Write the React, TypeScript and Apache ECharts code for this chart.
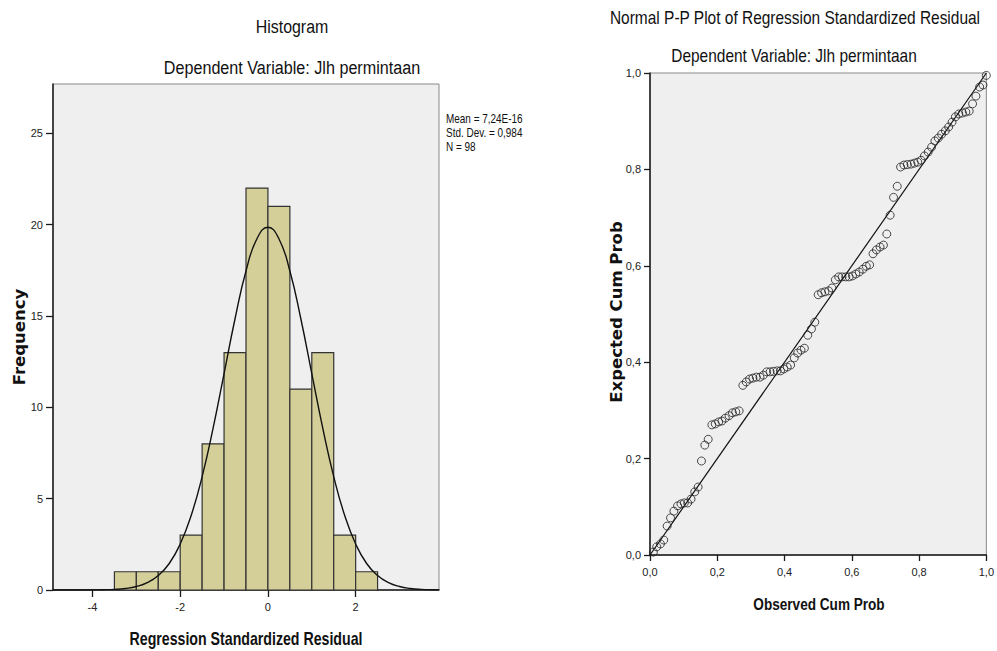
import React, { useEffect, useRef } from "react";
import * as echarts from "echarts";

// ---------- Histogram data ----------
const binStarts = [-3.5, -3, -2.5, -2, -1.5, -1, -0.5, 0, 0.5, 1, 1.5, 2];
const binEnds = [-3, -2.5, -2, -1.5, -1, -0.5, 0, 0.5, 1, 1.5, 2, 2.5];
const frequencies = [1, 1, 1, 3, 8, 13, 22, 21, 11, 13, 3, 1];

// Normal curve (Mean ≈ 0, SD 0,984, N 98)
const curveX = [-4.9, -4.5, -4.25, -4, -3.75, -3.5, -3.25, -3, -2.75, -2.5, -2.25, -2, -1.75, -1.5, -1.25, -1, -0.75, -0.5, -0.25, 0,
  0.25, 0.5, 0.75, 1, 1.25, 1.5, 1.75, 2, 2.25, 2.5, 2.75, 3, 3.25, 3.5, 3.75, 3.9];
const curveY = [0, 0.0005, 0.002, 0.005, 0.014, 0.035, 0.085, 0.19, 0.4, 0.79, 1.45, 2.52, 4.08, 6.21, 8.86, 11.85, 14.85, 17.46, 19.23, 19.86,
  19.23, 17.46, 14.85, 11.85, 8.86, 6.21, 4.08, 2.52, 1.45, 0.79, 0.4, 0.19, 0.085, 0.035, 0.014, 0.007];

const histTicksX = [-4, -2, 0, 2];
const histTicksY = [0, 5, 10, 15, 20, 25];
const statLines = ["Mean = 7,24E-16", "Std. Dev. = 0,984", "N = 98"];

// ---------- P-P plot data ----------
const observedCumProb = [
  0.010, 0.020, 0.031, 0.041, 0.051, 0.061, 0.071, 0.082, 0.092, 0.102,
  0.112, 0.122, 0.133, 0.143, 0.153, 0.163, 0.173, 0.184, 0.194, 0.204,
  0.214, 0.224, 0.235, 0.245, 0.255, 0.265, 0.276, 0.286, 0.296, 0.306,
  0.316, 0.327, 0.337, 0.347, 0.357, 0.367, 0.378, 0.388, 0.398, 0.408,
  0.418, 0.429, 0.439, 0.449, 0.459, 0.469, 0.480, 0.490, 0.500, 0.510,
  0.520, 0.531, 0.541, 0.551, 0.561, 0.571, 0.582, 0.592, 0.602, 0.612,
  0.622, 0.633, 0.643, 0.653, 0.663, 0.673, 0.684, 0.694, 0.704, 0.714,
  0.724, 0.735, 0.745, 0.755, 0.765, 0.776, 0.786, 0.796, 0.806, 0.816,
  0.827, 0.837, 0.847, 0.857, 0.867, 0.878, 0.888, 0.898, 0.908, 0.918,
  0.929, 0.939, 0.949, 0.959, 0.969, 0.980, 0.990, 1.000,
];
const expectedCumProb = [
  0.006, 0.017, 0.023, 0.031, 0.060, 0.077, 0.091, 0.102, 0.106, 0.108,
  0.108, 0.116, 0.131, 0.141, 0.195, 0.228, 0.240, 0.270, 0.272, 0.276,
  0.278, 0.284, 0.289, 0.295, 0.297, 0.299, 0.352, 0.359, 0.365, 0.367,
  0.369, 0.369, 0.373, 0.380, 0.380, 0.381, 0.382, 0.382, 0.386, 0.390,
  0.394, 0.409, 0.419, 0.425, 0.429, 0.456, 0.469, 0.483, 0.540, 0.544,
  0.546, 0.548, 0.554, 0.571, 0.577, 0.577, 0.577, 0.577, 0.579, 0.583,
  0.587, 0.593, 0.599, 0.602, 0.625, 0.633, 0.639, 0.643, 0.666, 0.705,
  0.742, 0.765, 0.805, 0.809, 0.810, 0.811, 0.813, 0.815, 0.819, 0.828,
  0.836, 0.846, 0.859, 0.865, 0.873, 0.880, 0.888, 0.898, 0.909, 0.915,
  0.917, 0.919, 0.921, 0.936, 0.952, 0.971, 0.975, 0.995,
];
const ppTicks = [0, 0.2, 0.4, 0.6, 0.8, 1.0];
const diagonal = [[0, 0], [1, 1]];

const SANS = "'Liberation Sans', Arial, sans-serif";
const WIDE_BOLD = "'DejaVu Sans', 'Liberation Sans', sans-serif";

const comma = (v: number) => v.toFixed(1).replace(".", ",");

const txt = (text: string, x: number, y: number, font: string, scaleX: number, extra: any = {}) => ({
  type: "text",
  x,
  y,
  scaleX,
  originX: 0,
  originY: 0,
  ...extra,
  style: { text, font, fill: "#111", textAlign: extra.align || "center", textVerticalAlign: "middle" },
});

export default function App() {
  const ref = useRef<HTMLDivElement>(null);

  useEffect(() => {
    if (!ref.current) return;
    const chart = echarts.init(ref.current, undefined, { renderer: "svg" });

    const axisLineStyle = { color: "#1a1a1a", width: 1.5 };
    const labelStyle = { color: "#222", fontFamily: SANS, fontSize: 11 };

    const option: any = {
      animation: false,
      backgroundColor: "#ffffff",
      grid: [
        { left: 53, top: 84, width: 386, height: 506, show: true, backgroundColor: "#efefef", borderColor: "#8a8a8a", borderWidth: 1 },
        { left: 650, top: 73, width: 338, height: 482, show: true, backgroundColor: "#efefef", borderColor: "#8a8a8a", borderWidth: 1 },
      ],
      xAxis: [
        {
          gridIndex: 0, type: "value", min: -4.9, max: 3.9,
          splitLine: { show: false },
          axisLine: { show: true, onZero: false, lineStyle: axisLineStyle },
          axisTick: { show: true, customValues: histTicksX, length: 7, lineStyle: { color: "#1a1a1a", width: 1.3 } },
          axisLabel: { customValues: histTicksX, margin: 11, ...labelStyle },
        },
        {
          gridIndex: 1, type: "value", min: 0, max: 1, interval: 0.2,
          splitLine: { show: false },
          axisLine: { show: true, onZero: false, lineStyle: axisLineStyle },
          axisTick: { show: true, customValues: ppTicks, length: 6, lineStyle: { color: "#1a1a1a", width: 1.3 } },
          axisLabel: { customValues: ppTicks, margin: 11, formatter: comma, ...labelStyle },
        },
      ],
      yAxis: [
        {
          gridIndex: 0, type: "value", min: 0, max: 27.7,
          splitLine: { show: false },
          axisLine: { show: true, onZero: false, lineStyle: axisLineStyle },
          axisTick: { show: true, customValues: histTicksY, length: 7, lineStyle: { color: "#1a1a1a", width: 1.3 } },
          axisLabel: { customValues: histTicksY, margin: 10, ...labelStyle },
        },
        {
          gridIndex: 1, type: "value", min: 0, max: 1, interval: 0.2,
          splitLine: { show: false },
          axisLine: { show: true, onZero: false, lineStyle: axisLineStyle },
          axisTick: { show: true, customValues: ppTicks, length: 6, lineStyle: { color: "#1a1a1a", width: 1.3 } },
          axisLabel: { customValues: ppTicks, margin: 9, formatter: comma, ...labelStyle },
        },
      ],
      series: [
        {
          type: "custom",
          xAxisIndex: 0,
          yAxisIndex: 0,
          data: frequencies.map((f, i) => [binStarts[i], binEnds[i], f]),
          encode: { x: [0, 1], y: 2 },
          renderItem: (params: any, api: any) => {
            const p0 = api.coord([api.value(0), api.value(2)]);
            const p1 = api.coord([api.value(1), 0]);
            return {
              type: "rect",
              shape: { x: p0[0], y: p0[1], width: p1[0] - p0[0], height: p1[1] - p0[1] },
              style: { fill: "#d4cf99", stroke: "#333333", lineWidth: 1.2 },
            };
          },
          z: 2,
        },
        {
          type: "line",
          xAxisIndex: 0,
          yAxisIndex: 0,
          data: curveX.map((x, i) => [x, curveY[i]]),
          showSymbol: false,
          smooth: 0.5,
          lineStyle: { color: "#111", width: 1.4 },
          z: 3,
        },
        {
          type: "line",
          xAxisIndex: 1,
          yAxisIndex: 1,
          data: diagonal,
          showSymbol: false,
          lineStyle: { color: "#111", width: 1.2 },
          z: 3,
        },
        {
          type: "scatter",
          xAxisIndex: 1,
          yAxisIndex: 1,
          data: observedCumProb.map((x, i) => [x, expectedCumProb[i]]),
          symbol: "circle",
          symbolSize: 8,
          itemStyle: { color: "rgba(0,0,0,0)", borderColor: "#222", borderWidth: 1 },
          z: 4,
        },
      ],
      graphic: [
        txt("Histogram", 292, 27, `19px ${SANS}`, 0.84),
        txt("Dependent Variable: Jlh permintaan", 292, 68, `19px ${SANS}`, 0.85),
        txt("Normal P-P Plot of Regression Standardized Residual", 795, 18, `18px ${SANS}`, 0.86),
        txt("Dependent Variable: Jlh permintaan", 794, 56, `18px ${SANS}`, 0.86),
        ...statLines.map((t, i) => txt(t, 446, 119 + i * 14, `12px ${SANS}`, 0.83, { align: "left" })),
        txt("Regression Standardized Residual", 246, 639, `bold 17.5px ${SANS}`, 0.81),
        txt("Observed Cum Prob", 819, 604, `bold 17px ${SANS}`, 0.8),
        txt("Frequency", 19, 337, `bold 16.5px ${WIDE_BOLD}`, 1, { rotation: Math.PI / 2 }),
        txt("Expected Cum Prob", 616, 312, `bold 16.5px ${WIDE_BOLD}`, 1, { rotation: Math.PI / 2 }),
      ],
    };

    chart.setOption(option);
    return () => chart.dispose();
  }, []);

  return (
    <div
      ref={ref}
      style={{ position: "fixed", left: 0, top: 0, width: 997, height: 651, background: "#fff" }}
    />
  );
}
